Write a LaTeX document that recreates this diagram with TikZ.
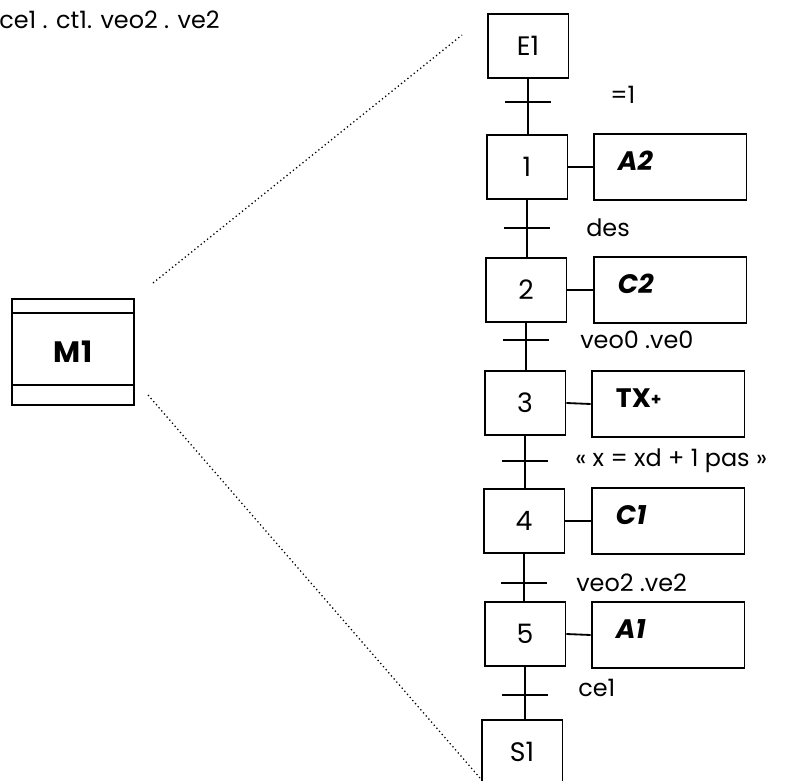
\documentclass[tikz,border=0pt]{standalone}
\usepackage{fontspec}
\setmainfont{Poppins}
\usetikzlibrary{calc}

\begin{document}
\begin{tikzpicture}[
    x=0.025cm,
    y=-0.025cm,
    etape/.style={
        draw=black,
        line width=1.3pt,
        minimum width=2.02cm,
        minimum height=1.6cm,
        font=\fontsize{19}{21}\selectfont
    },
    action/.style={
        draw=black,
        line width=1.3pt,
        minimum width=3.82cm,
        minimum height=1.63cm,
        text width=2.6cm,
        inner xsep=0.6cm,
        text depth=0.3cm,
        align=left,
        font=\fontsize{19}{21}\selectfont\bfseries\itshape
    },
    recept/.style={
        font=\fontsize{17}{19}\selectfont,
        anchor=west,
        inner sep=0pt
    },
    lien/.style={
        line width=1.3pt
    },
    pointille/.style={
        dotted,
        line width=0.9pt
    }
]

\clip (0,0) rectangle (796,781);
\useasboundingbox (0,0) rectangle (796,781);

% =================================================
% BLOC 1 - MACRO-ETAPE
% =================================================

\node[
    font=\fontsize{17}{19}\selectfont,
    anchor=east,
    inner sep=0pt
] (condition) at (220,20)
{ce1 . ct1. veo2 . ve2};

\node[
    draw=black,
    line width=1.3pt,
    minimum width=3.05cm,
    minimum height=2.65cm,
    font=\fontsize{21}{23}\selectfont\bfseries
] (m1) at (73,352)
{M1};

% Bandes haut et bas
\draw[lien] ($(m1.north west)+(0,15)$) -- ($(m1.north east)+(0,15)$);
\draw[lien] ($(m1.south west)+(0,-21)$) -- ($(m1.south east)+(0,-21)$);

% Lignes d'expansion
\coordinate (d1) at (153,283);
\coordinate (d2) at (462,35);
\coordinate (d3) at (148,395);
\coordinate (d4) at (480,778);

\draw[pointille] (d1) -- (d2);
\draw[pointille] (d3) -- (d4);


% =================================================
% BLOC 2 - GRAFCET DE LA MACRO-ETAPE
% =================================================

\node[etape] (E1) at (528,46) {E1};
\node[etape] (e1) at (527,167) {1};
\node[etape] (e2) at (526,290) {2};
\node[etape] (e3) at (525,403) {3};
\node[etape] (e4) at (524,521) {4};
\node[etape] (e5) at (525,634) {5};
\node[etape] (S1) at (522,752) {S1};

% Actions
\node[action] (a1) at (670,167) {A2};
\node[action] (a2) at (670,290) {C2};
\node[action, font=\fontsize{19}{21}\selectfont\bfseries] (a3) at (668,404)
{TX\raisebox{1pt}{\fontsize{12}{13}\selectfont +}};
\node[action] (a4) at (668,521) {C1};
\node[action] (a5) at (668,635) {A1};

\draw[lien] (e1.east) -- (a1.west);
\draw[lien] (e2.east) -- (a2.west);
\draw[lien] (e3.east) -- (a3.west);
\draw[lien] (e4.east) -- (a4.west);
\draw[lien] (e5.east) -- (a5.west);

% Liaisons entre etapes
\draw[lien] (E1.south) -- (E1.south |- e1.north);
\draw[lien] (e1.south) -- (e1.south |- e2.north);
\draw[lien] (e2.south) -- (e2.south |- e3.north);
\draw[lien] (e3.south) -- (e3.south |- e4.north);
\draw[lien] (e4.south) -- (e4.south |- e5.north);
\draw[lien] (e5.south) -- (e5.south |- S1.north);

% Transitions
\coordinate (t1) at (E1.south |- 0,102);
\coordinate (t2) at (e1.south |- 0,228);
\coordinate (t3) at (e2.south |- 0,340);
\coordinate (t4) at (e3.south |- 0,461);
\coordinate (t5) at (e4.south |- 0,583);
\coordinate (t6) at (e5.south |- 0,695);

\foreach \t in {t1,t2,t3,t4,t5,t6}
    \draw[lien] ($(\t)+(-23,0)$) -- ($(\t)+(23,0)$);

% Receptivites
\node[recept] (r1) at (610,95) {=1};
\node[recept] (r2) at (586,228) {des};
\node[recept] (r3) at (580,340) {veo0 .ve0};
\node[recept] (r4) at (575,461) {« x = xd + 1 pas »};
\node[recept] (r5) at (576,583) {veo2 .ve2};
\node[recept] (r6) at (578,688) {ce1};

\end{tikzpicture}
\end{document}
